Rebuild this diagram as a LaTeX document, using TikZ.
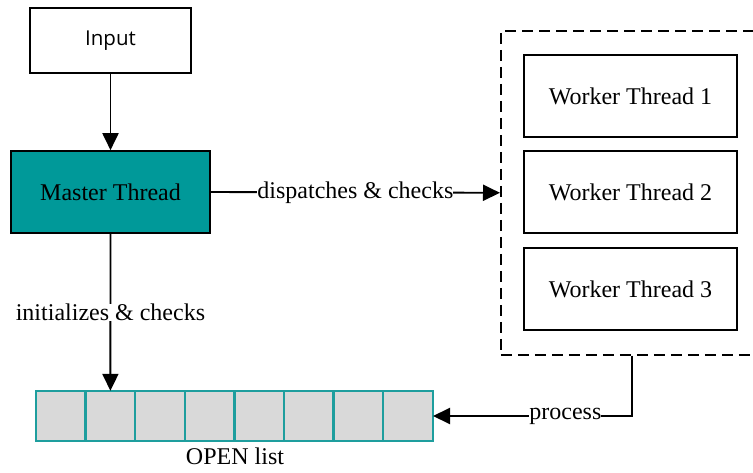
\documentclass[tikz,border=0pt]{standalone}
\usepackage{fontspec}
\setmainfont{Liberation Serif}
\newfontfamily\boxsans{Open Sans}
\usetikzlibrary{arrows.meta}
\definecolor{masterteal}{RGB}{0,153,153}
\definecolor{listteal}{RGB}{30,158,158}
\definecolor{cellgray}{RGB}{217,217,217}
\begin{document}
\begin{tikzpicture}[x=1pt,y=-1pt,
  every node/.style={font=\fontsize{24}{28}\selectfont},
  blockbox/.style={draw=black,line width=1.6pt,inner sep=0pt,
    minimum width=#1,minimum height=82pt},
  blockbox/.default=213pt,
  cellbox/.style={fill=cellgray,inner sep=0pt,
    minimum width=49.6pt,minimum height=50pt},
  celledge/.style={draw=listteal,line width=2pt},
  conn/.style={line width=1.9pt,-{Triangle[length=17pt,width=16pt]}},
  tag/.style={fill=white,inner sep=0pt}]
\useasboundingbox (0,0) rectangle (753,473);
\clip (0,0) rectangle (753,473);

% input and master
\node[blockbox=161pt,minimum height=65pt,font=\boxsans\fontsize{20.5}{24}\selectfont]
  (input) at (110.5,40.5) {Input};
\node[blockbox=199pt,fill=masterteal] (master) at (110.5,192) {Master Thread};

% worker pool
\node[draw=black,line width=1.6pt,dash pattern=on 11pt off 6pt,inner sep=0pt,
  minimum width=262pt,minimum height=324pt,anchor=north west] (pool) at (500,30) {};
\node[blockbox] (w1) at (630.5,96) {Worker Thread 1};
\node[blockbox] (w2) at (630.5,192) {Worker Thread 2};
\node[blockbox] (w3) at (630.5,289) {Worker Thread 3};

% OPEN list cells: fills first, then all borders on top
\foreach \i in {1,...,8}
  \node[cellbox] (cell\i) at ({36+49.6*(\i-0.5)},416) {};
\foreach \i in {1,...,8}
  \draw[celledge] (cell\i.north west) rectangle (cell\i.south east);
\node[anchor=north,inner sep=0pt] (openlabel) at (235,448) {OPEN list};

% connectors
\draw[conn] (input) -- (master);
\draw[conn] (master.east) -- node[tag] {dispatches \& checks} (pool.west);
\draw[conn] (master.south) -- node[tag] {initializes \& checks} (cell2.north);
\draw[conn] (pool.south) |- node[tag,pos=0.667] {process} (cell8.east);
\end{tikzpicture}
\end{document}
